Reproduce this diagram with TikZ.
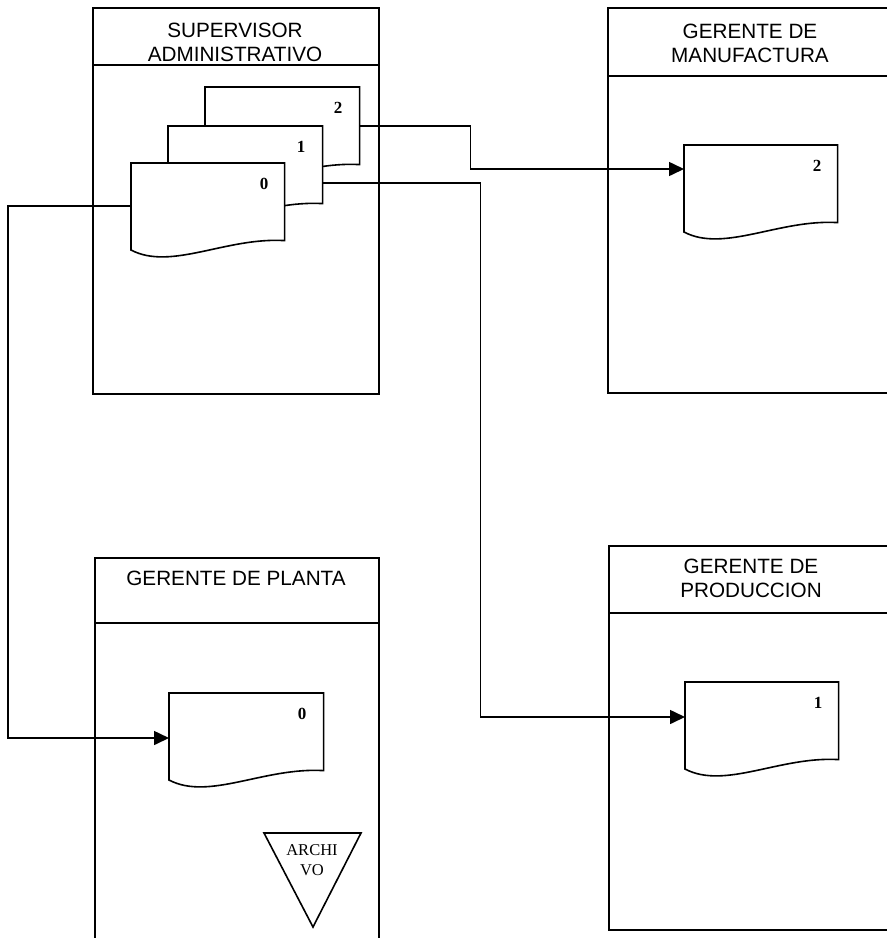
\documentclass[tikz,border=0pt]{standalone}
\usepackage{fontspec}
\setmainfont{Liberation Serif}
\newfontfamily\hfont{Liberation Sans}
\usetikzlibrary{arrows.meta,calc}

\newcommand\docu[5]{% name, x, y, label, width
  \node[docbox, minimum width=#5pt] (#1) at (#2,#3) {};
  \draw[fill=white] (#1.north west) -- (#1.north east) -- (#1.south east)
    .. controls ($(#1.north west)+(95,74)$) and ($(#1.north west)+(40,108)$) .. ($(#1.north west)+(0,87)$) -- cycle;
  \node[num] (#1n) at ($(#1.north west)+(133,21)$) {#4};
}

\begin{document}
\begin{tikzpicture}[x=1pt,y=-1pt, line width=1.6pt,
  lane/.style={draw, line width=1.6pt, inner sep=0, anchor=north west},
  hdr/.style={font=\hfont\fontsize{20.7}{24}\selectfont, align=center, inner sep=0},
  docbox/.style={minimum height=76pt, inner sep=0, anchor=north west},
  num/.style={font=\bfseries\fontsize{17}{17}\selectfont, inner sep=0},
  flow/.style={-{Triangle[length=15pt,width=14pt]}, line width=1.6pt},
  arch/.style={font=\fontsize{16.5}{20}\selectfont, align=center, inner sep=0}
]
\useasboundingbox (0,0) rectangle (887,938);
\fill[white] (0,0) rectangle (887,938);
\clip (0,0) rectangle (887,938);

% lanes
\node[lane, minimum width=286pt, minimum height=386pt] (sup) at (92,7) {};
\draw (92,65) -- (378,65);
\node[hdr] (supT) at (235,42) {SUPERVISOR\\ADMINISTRATIVO};

\node[lane, minimum width=300pt, minimum height=385pt] (man) at (607,7) {};
\draw (607,76) -- (907,76);
\node[hdr] (manT) at (750,43.5) {GERENTE DE\\MANUFACTURA};

\node[lane, minimum width=284pt, minimum height=420pt] (pla) at (94,557) {};
\draw (94,623) -- (378,623);
\node[hdr] (plaT) at (236,578) {GERENTE DE PLANTA};

\node[lane, minimum width=300pt, minimum height=384pt] (pro) at (608,545) {};
\draw (608,613) -- (908,613);
\node[hdr] (proT) at (751,578.5) {GERENTE DE\\PRODUCCION};

% documents
\docu{S2}{205}{87}{2}{153}
\docu{S1}{168}{126}{1}{153}
\docu{S0}{131}{163}{0}{152}
\docu{M}{684}{145}{2}{152}
\docu{P}{685}{682}{1}{152}
\docu{PL}{169}{693}{0}{153}

% archivo
\draw (264,833) -- (361,833) -- (313,927) -- cycle;
\node[arch] (arc) at (312,860) {ARCHI\\VO};

% connectors
\draw[flow] ($(S2.north east)+(0,39)$) -- ++(111,0) |- ($(M.north west)+(0,24)$);
\draw[flow] ($(S1.north east)+(0,57)$) -- ++(158,0) |- ($(P.north west)+(0,35)$);
\draw[flow] ($(S0.north west)+(0,43)$) -- ++(-123,0) |- ($(PL.north west)+(0,45)$);
\end{tikzpicture}
\end{document}
